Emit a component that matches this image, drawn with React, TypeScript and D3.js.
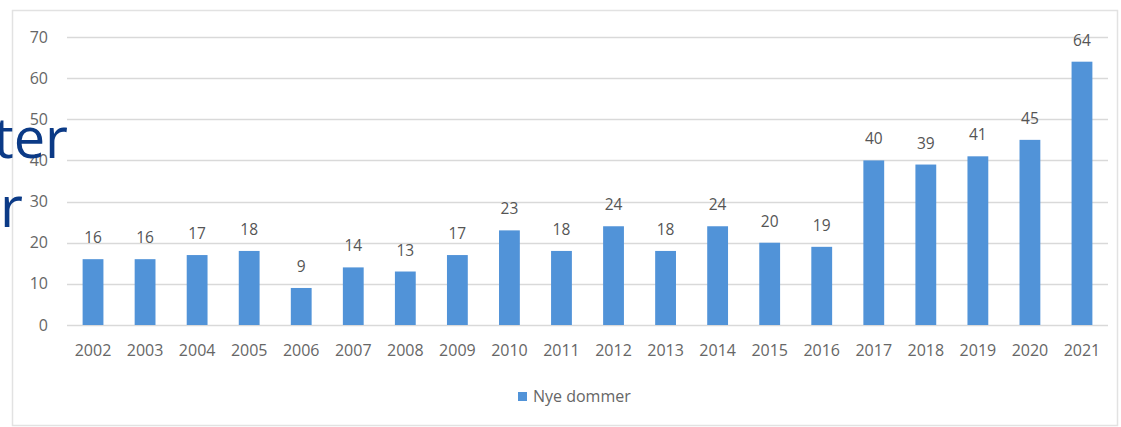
import React from "react";
import * as d3 from "d3";

const years = ["2002","2003","2004","2005","2006","2007","2008","2009","2010","2011","2012","2013","2014","2015","2016","2017","2018","2019","2020","2021"];
const nyeDommer = [16,16,17,18,9,14,13,17,23,18,24,18,24,20,19,40,39,41,45,64];
const yTicks = [0,10,20,30,40,50,60,70];
const seriesName = "Nye dommer";
const overlayLines = ["ter", "r"];

const W = 1121, H = 427;
const FONT = "'Open Sans', 'Noto Sans', sans-serif";

export default function App() {
  const x = d3.scaleBand<string>().domain(years).range([67, 1108]).paddingInner(0.6).paddingOuter(0.3);
  const y = d3.scaleLinear().domain([0, 70]).range([325, 37]);
  const bw = x.bandwidth();
  return (
    <svg width={W} height={H} style={{ position: "absolute", left: 0, top: 0, background: "#fff" }} fontFamily={FONT}>
      <rect x={12.5} y={10.5} width={1105} height={415} fill="#fff" stroke="#e2e2e2" strokeWidth={1.5} />
      {yTicks.map(t => (
        <g key={t}>
          <line x1={67} x2={1108} y1={Math.round(y(t)) + 0.5} y2={Math.round(y(t)) + 0.5} stroke="#d9d9d9" strokeWidth={1.5} />
          <text x={48} y={y(t)} dy="0.35em" textAnchor="end" fontSize={16} fill="#666">{t}</text>
        </g>
      ))}
      {years.map((yr, i) => (
        <g key={yr}>
          <rect x={x(yr)} y={y(nyeDommer[i])} width={bw} height={y(0) - y(nyeDommer[i])} fill="#5193d8" />
          <text x={(x(yr) as number) + bw / 2} y={y(nyeDommer[i]) - 16} textAnchor="middle" fontSize={15.5} fill="#555">{nyeDommer[i]}</text>
          <text x={(x(yr) as number) + bw / 2} y={356} textAnchor="middle" fontSize={16} fill="#666">{yr}</text>
        </g>
      ))}
      <rect x={518} y={392} width={9} height={9} fill="#5193d8" />
      <text x={533} y={396.5} dy="0.35em" fontSize={16} fill="#666">{seriesName}</text>
      {overlayLines.map((s, i) => (
        <text key={i} x={i === 0 ? 68 : 23} y={i === 0 ? 158 : 227} textAnchor="end" fontSize={56} fill="#0b3a86">{s}</text>
      ))}
    </svg>
  );
}
